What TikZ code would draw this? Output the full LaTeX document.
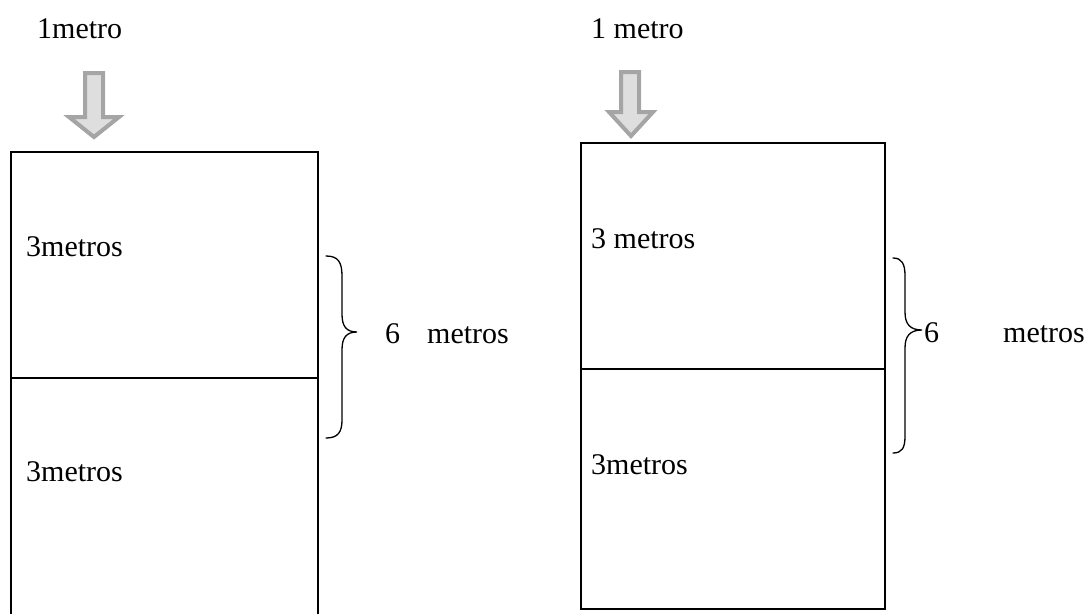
\documentclass[tikz,border=0pt]{standalone}
\usepackage{fontspec}
\setmainfont{Liberation Serif}
\definecolor{arrowedge}{HTML}{A5A5A5}
\definecolor{arrowfill}{HTML}{DEDEDE}
\begin{document}
\begin{tikzpicture}[x=1pt,y=-1pt,
  box/.style={draw=black,line width=2pt},
  lbl/.style={anchor=base west,inner sep=0pt,font=\fontsize{30}{36}\selectfont},
  bracepath/.style={draw=black,line width=1.3pt,line cap=round},
  blockarrow/.style={draw=arrowedge,fill=arrowfill,line width=4pt,line join=miter}]
\useasboundingbox (0,0) rectangle (1091,613);
\clip (0,0) rectangle (1091,613);

% left column: two stacked 3 m sections
\draw[box] (11,152) rectangle (318,630);
\draw[box] (11,378) -- (318,378);
% right column
\draw[box] (581,143) rectangle (885,609);
\draw[box] (581,369) -- (885,369);

% downward block arrows
\draw[blockarrow] (85,73) -- (103,73) -- (103,117) -- (119,117) -- (94,137)
  -- (69,117) -- (85,117) -- cycle;
\draw[blockarrow] (621,72) -- (639,72) -- (639,112) -- (653,112) -- (631,136)
  -- (609,112) -- (621,112) -- cycle;

% curly braces
\draw[bracepath] (326,256) .. controls (338,256) and (342,262) .. (342,276)
  -- (342,314) .. controls (342,326) and (346,332) .. (357,332)
  .. controls (346,332) and (342,338) .. (342,350)
  -- (342,420) .. controls (342,432) and (338,438) .. (326,438);
\draw[bracepath] (893,258) .. controls (902,258) and (905,264) .. (905,276)
  -- (905,312) .. controls (905,324) and (910,330) .. (922,330)
  .. controls (910,330) and (905,336) .. (905,348)
  -- (905,436) .. controls (905,448) and (902,453) .. (893,453);

% labels
\node[lbl] (topL) at (37,38) {1metro};
\node[lbl] (topR) at (591,38) {1 metro};
\node[lbl] (upL) at (26,256) {3metros};
\node[lbl] (lowL) at (26,481) {3metros};
\node[lbl] (upR) at (591,248) {3 metros};
\node[lbl] (lowR) at (591,474) {3metros};
\node[lbl] (sixL) at (385,343) {6};
\node[lbl] (unitL) at (427,343) {metros};
\node[lbl] (sixR) at (924,342) {6};
\node[lbl] (unitR) at (1003,342) {metros};
\end{tikzpicture}
\end{document}
